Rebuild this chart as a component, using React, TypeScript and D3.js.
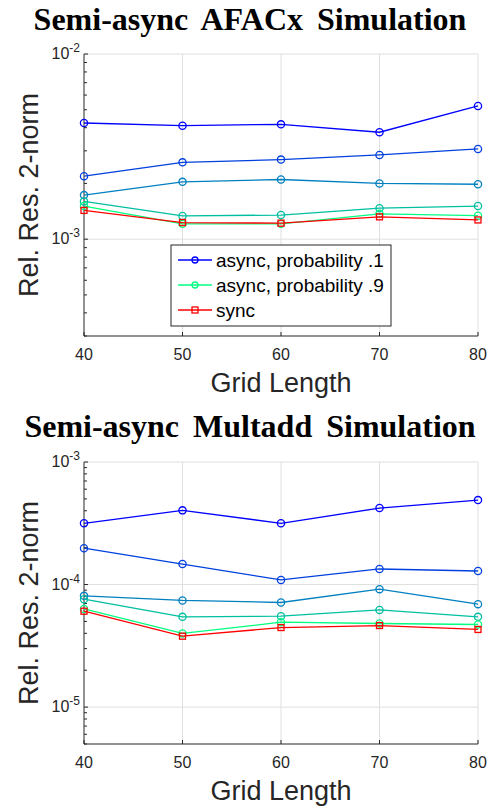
import React, { useEffect, useRef } from "react";
import * as d3 from "d3";

const gridLengths = [40, 50, 60, 70, 80];
const probabilityLabels = [".1", ".3", ".5", ".7", ".9"];

// Semi-async AFACx
const afacxAsync1 = [4.24e-3, 4.1e-3, 4.17e-3, 3.78e-3, 5.24e-3];
const afacxAsync3 = [2.19e-3, 2.6e-3, 2.69e-3, 2.85e-3, 3.07e-3];
const afacxAsync5 = [1.73e-3, 2.04e-3, 2.1e-3, 2.0e-3, 1.98e-3];
const afacxAsync7 = [1.6e-3, 1.335e-3, 1.35e-3, 1.47e-3, 1.51e-3];
const afacxAsync9 = [1.51e-3, 1.21e-3, 1.21e-3, 1.37e-3, 1.34e-3];
const afacxSync = [1.43e-3, 1.23e-3, 1.22e-3, 1.32e-3, 1.27e-3];

// Semi-async Multadd
const multaddAsync1 = [3.16e-4, 4.03e-4, 3.16e-4, 4.21e-4, 4.89e-4];
const multaddAsync3 = [1.98e-4, 1.47e-4, 1.09e-4, 1.34e-4, 1.29e-4];
const multaddAsync5 = [8.09e-5, 7.42e-5, 7.14e-5, 9.17e-5, 6.92e-5];
const multaddAsync7 = [7.6e-5, 5.45e-5, 5.52e-5, 6.21e-5, 5.45e-5];
const multaddAsync9 = [6.33e-5, 3.99e-5, 4.93e-5, 4.81e-5, 4.72e-5];
const multaddSync = [6.06e-5, 3.79e-5, 4.46e-5, 4.63e-5, 4.3e-5];

const axisColor = "#262626";
const gridColor = "#dfdfdf";
const sansFont = "'Liberation Sans', Arial, sans-serif";
const serifFont = "'Liberation Serif', 'Times New Roman', serif";
const asyncColor = d3.interpolateRgb("#0000ff", "#00ff80");

type Panel = {
  title: string;
  titleY: number;
  top: number;
  bottom: number;
  yDomain: [number, number];
  asyncSeries: number[][];
  syncSeries: number[];
  legend: boolean;
};

function drawPanel(root: d3.Selection<SVGSVGElement, unknown, null, undefined>, p: Panel) {
  const left = 84;
  const right = 478;
  const x = d3.scaleLinear().domain([40, 80]).range([left, right]);
  const y = d3.scaleLog().domain(p.yDomain).range([p.bottom, p.top]);
  const g = root.append("g");

  g.append("text")
    .text(p.title)
    .attr("x", 250)
    .attr("y", p.titleY)
    .attr("text-anchor", "middle")
    .attr("font-family", serifFont)
    .attr("font-weight", "bold")
    .attr("font-size", "32px")
    .attr("word-spacing", "6px")
    .attr("fill", "#000");

  const yTicks = y.ticks();
  const decades = yTicks.filter((d) => Math.abs(Math.log10(d) - Math.round(Math.log10(d))) < 1e-9);

  // grid
  g.selectAll(".vgrid")
    .data(gridLengths.slice(1))
    .enter()
    .append("line")
    .attr("x1", (d) => x(d))
    .attr("x2", (d) => x(d))
    .attr("y1", p.top)
    .attr("y2", p.bottom)
    .attr("stroke", gridColor);
  g.selectAll(".hgrid")
    .data(decades)
    .enter()
    .append("line")
    .attr("x1", left)
    .attr("x2", right)
    .attr("y1", (d) => y(d))
    .attr("y2", (d) => y(d))
    .attr("stroke", gridColor);

  // axes
  g.append("line")
    .attr("x1", left).attr("x2", left)
    .attr("y1", p.top).attr("y2", p.bottom)
    .attr("stroke", axisColor);
  g.append("line")
    .attr("x1", left).attr("x2", right)
    .attr("y1", p.bottom).attr("y2", p.bottom)
    .attr("stroke", axisColor);

  g.selectAll(".ytick")
    .data(yTicks)
    .enter()
    .append("line")
    .attr("x1", left)
    .attr("x2", (d) => left + (decades.includes(d) ? 4 : 3))
    .attr("y1", (d) => y(d))
    .attr("y2", (d) => y(d))
    .attr("stroke", axisColor);

  g.selectAll(".xtick")
    .data(gridLengths)
    .enter()
    .append("line")
    .attr("x1", (d) => x(d))
    .attr("x2", (d) => x(d))
    .attr("y1", p.bottom)
    .attr("y2", p.bottom - 4)
    .attr("stroke", axisColor);

  g.selectAll(".xlabel")
    .data(gridLengths)
    .enter()
    .append("text")
    .text((d) => d)
    .attr("x", (d) => x(d))
    .attr("y", p.bottom + 24)
    .attr("text-anchor", "middle")
    .attr("font-family", sansFont)
    .attr("font-size", "16px")
    .attr("fill", axisColor);

  const ylab = g
    .selectAll(".ylabel")
    .data(decades)
    .enter()
    .append("text")
    .attr("x", 80)
    .attr("y", (d) => y(d) + 5)
    .attr("text-anchor", "end")
    .attr("font-family", sansFont)
    .attr("font-size", "16px")
    .attr("fill", axisColor);
  ylab.append("tspan").text("10");
  ylab
    .append("tspan")
    .attr("dy", -7)
    .attr("font-size", "12px")
    .text((d) => String(Math.round(Math.log10(d))));

  g.append("text")
    .text("Grid Length")
    .attr("x", (left + right) / 2)
    .attr("y", p.bottom + 56)
    .attr("text-anchor", "middle")
    .attr("font-family", sansFont)
    .attr("font-size", "27px")
    .attr("fill", axisColor);

  g.append("text")
    .text("Rel. Res. 2-norm")
    .attr("transform", `translate(38, ${(p.top + p.bottom) / 2}) rotate(-90)`)
    .attr("text-anchor", "middle")
    .attr("font-family", sansFont)
    .attr("font-size", "27px")
    .attr("fill", axisColor);

  const line = d3
    .line<number>()
    .x((_, i) => x(gridLengths[i]))
    .y((d) => y(d));

  p.asyncSeries.forEach((s, k) => {
    const color = asyncColor(k / (p.asyncSeries.length - 1));
    g.append("path")
      .attr("d", line(s))
      .attr("fill", "none")
      .attr("stroke", color)
      .attr("stroke-width", 1.3);
    g.selectAll(null)
      .data(s)
      .enter()
      .append("circle")
      .attr("cx", (_, i) => x(gridLengths[i]))
      .attr("cy", (d) => y(d))
      .attr("r", 3.6)
      .attr("fill", "none")
      .attr("stroke", color)
      .attr("stroke-width", 1.3);
  });

  g.append("path")
    .attr("d", line(p.syncSeries))
    .attr("fill", "none")
    .attr("stroke", "#ff0000")
    .attr("stroke-width", 1.3);
  g.selectAll(null)
    .data(p.syncSeries)
    .enter()
    .append("rect")
    .attr("x", (_, i) => x(gridLengths[i]) - 3)
    .attr("y", (d) => y(d) - 3)
    .attr("width", 6)
    .attr("height", 6)
    .attr("fill", "none")
    .attr("stroke", "#ff0000")
    .attr("stroke-width", 1.3);

  if (p.legend) {
    const entries = [
      { label: `async, probability ${probabilityLabels[0]}`, color: asyncColor(0), square: false },
      { label: `async, probability ${probabilityLabels[probabilityLabels.length - 1]}`, color: asyncColor(1), square: false },
      { label: "sync", color: "#ff0000", square: true },
    ];
    const lg = g.append("g").attr("transform", "translate(171, 245)");
    lg.append("rect")
      .attr("width", 220)
      .attr("height", 81)
      .attr("fill", "#fff")
      .attr("stroke", axisColor);
    entries.forEach((e, i) => {
      const cy = 15 + i * 25;
      lg.append("line")
        .attr("x1", 7).attr("x2", 41)
        .attr("y1", cy).attr("y2", cy)
        .attr("stroke", e.color)
        .attr("stroke-width", 1.3);
      if (e.square) {
        lg.append("rect")
          .attr("x", 21).attr("y", cy - 3)
          .attr("width", 6).attr("height", 6)
          .attr("fill", "none")
          .attr("stroke", e.color)
          .attr("stroke-width", 1.3);
      } else {
        lg.append("circle")
          .attr("cx", 24).attr("cy", cy)
          .attr("r", 3)
          .attr("fill", "none")
          .attr("stroke", e.color)
          .attr("stroke-width", 1.3);
      }
      lg.append("text")
        .text(e.label)
        .attr("x", 45)
        .attr("y", cy + 7)
        .attr("font-family", sansFont)
        .attr("font-size", "19px")
        .attr("fill", "#000");
    });
  }
}

export default function App() {
  const ref = useRef<SVGSVGElement>(null);

  useEffect(() => {
    const svg = d3.select(ref.current!);
    svg.selectAll("*").remove();
    drawPanel(svg as any, {
      title: "Semi-async AFACx Simulation",
      titleY: 30,
      top: 54,
      bottom: 336,
      yDomain: [3e-4, 1e-2],
      asyncSeries: [afacxAsync1, afacxAsync3, afacxAsync5, afacxAsync7, afacxAsync9],
      syncSeries: afacxSync,
      legend: true,
    });
    drawPanel(svg as any, {
      title: "Semi-async Multadd Simulation",
      titleY: 437,
      top: 462,
      bottom: 744,
      yDomain: [5e-6, 1e-3],
      asyncSeries: [multaddAsync1, multaddAsync3, multaddAsync5, multaddAsync7, multaddAsync9],
      syncSeries: multaddSync,
      legend: false,
    });
  }, []);

  return (
    <svg
      ref={ref}
      width={494}
      height={807}
      style={{ position: "absolute", left: 0, top: 0, background: "#fff" }}
    />
  );
}
